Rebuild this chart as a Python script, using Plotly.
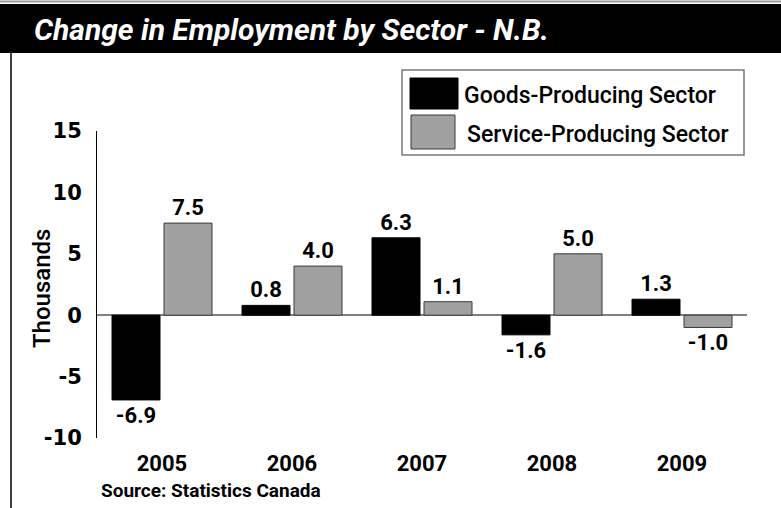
import plotly.graph_objects as go

years = ["2005", "2006", "2007", "2008", "2009"]
goods = [-6.9, 0.8, 6.3, -1.6, 1.3]
services = [7.5, 4.0, 1.1, 5.0, -1.0]
series_names = ["Goods-Producing Sector", "Service-Producing Sector"]
y_ticks = [-10, -5, 0, 5, 10, 15]

W, H = 781, 508
L, R, T, B = 97, 747, 131, 438  # plot area in pixels


def px(x):
    return (x - L) / (R - L)


def py(y):
    return (B - y) / (B - T)


NUMFONT = "Roboto"
TXTFONT = "Roboto"

fig = go.Figure()
fig.add_bar(
    x=years, y=goods, name=series_names[0],
    marker=dict(color="#000000", line=dict(color="#000000", width=1)),
    text=[f"{v:.1f}" for v in goods], textposition="outside",
    textfont=dict(family=NUMFONT, size=22, color="#000000", weight="bold"),
    cliponaxis=False, showlegend=False,
)
fig.add_bar(
    x=years, y=services, name=series_names[1],
    marker=dict(color="#a0a0a0", line=dict(color="#3a3a3a", width=1)),
    text=[f"{v:.1f}" for v in services], textposition="outside",
    textfont=dict(family=NUMFONT, size=22, color="#000000", weight="bold"),
    cliponaxis=False, showlegend=False,
)

shapes = [
    # title bar
    dict(type="rect", xref="paper", yref="paper", x0=px(0), x1=px(W), y0=py(53), y1=py(4),
         fillcolor="#000000", line=dict(width=0), layer="below"),
    dict(type="line", xref="paper", yref="paper", x0=px(0), x1=px(W), y0=py(1.5), y1=py(1.5),
         line=dict(color="#9a9a9a", width=2)),
    # left border
    dict(type="line", xref="paper", yref="paper", x0=px(11), x1=px(11), y0=py(53), y1=py(H),
         line=dict(color="#000000", width=1.5)),
    # legend box
    dict(type="rect", xref="paper", yref="paper", x0=px(402), x1=px(744), y0=py(155), y1=py(70),
         fillcolor="rgba(0,0,0,0)", line=dict(color="#7a7a7a", width=1.5)),
    dict(type="rect", xref="paper", yref="paper", x0=px(410), x1=px(458), y0=py(109), y1=py(78),
         fillcolor="#000000", line=dict(color="#000000", width=1)),
    dict(type="rect", xref="paper", yref="paper", x0=px(411), x1=px(455), y0=py(149), y1=py(115),
         fillcolor="#a0a0a0", line=dict(color="#3a3a3a", width=1)),
]

annotations = [
    dict(text="Change in Employment by Sector - N.B.", xref="paper", yref="paper",
         x=px(32), y=py(29), xanchor="left", yanchor="middle", showarrow=False,
         font=dict(family=NUMFONT, size=30, color="#ffffff", weight="bold", style="italic")),
    dict(text=series_names[0], xref="paper", yref="paper",
         x=px(462), y=py(96), xanchor="left", yanchor="middle", showarrow=False,
         font=dict(family=TXTFONT, size=23, color="#000000", weight=500)),
    dict(text=series_names[1], xref="paper", yref="paper",
         x=px(465), y=py(134), xanchor="left", yanchor="middle", showarrow=False,
         font=dict(family=TXTFONT, size=23, color="#000000", weight=500)),
    dict(text="Thousands", xref="paper", yref="paper", textangle=-90,
         x=px(42), y=py(289), xanchor="center", yanchor="middle", showarrow=False,
         font=dict(family=TXTFONT, size=24, color="#000000", weight=500)),
    dict(text="Source: Statistics Canada", xref="paper", yref="paper",
         x=px(99), y=py(490), xanchor="left", yanchor="middle", showarrow=False,
         font=dict(family=NUMFONT, size=19, color="#000000", weight="bold")),
]

fig.update_layout(
    width=W, height=H,
    margin=dict(l=L, r=W - R, t=T, b=H - B, pad=0),
    paper_bgcolor="#ffffff", plot_bgcolor="#ffffff",
    barmode="group", bargap=0.2, bargroupgap=0.077,
    shapes=shapes, annotations=annotations,
    xaxis=dict(showline=False, showgrid=False, ticks="", zeroline=False,
               tickfont=dict(family=NUMFONT, size=22, color="#000000", weight="bold"),
               ticklabelstandoff=10),
    yaxis=dict(range=[-10, 15], tickvals=y_ticks, ticktext=[str(v) for v in y_ticks],
               showline=True, linecolor="#000000", linewidth=1, ticks="",
               showgrid=False, zeroline=True, zerolinecolor="#808080", zerolinewidth=1.5,
               tickfont=dict(family="DejaVu Sans", size=21, color="#000000", weight="bold"),
               ticklabelstandoff=10),
)

fig.write_html("out.html", config={"displayModeBar": False},
               post_script="document.body.style.margin='0';")
